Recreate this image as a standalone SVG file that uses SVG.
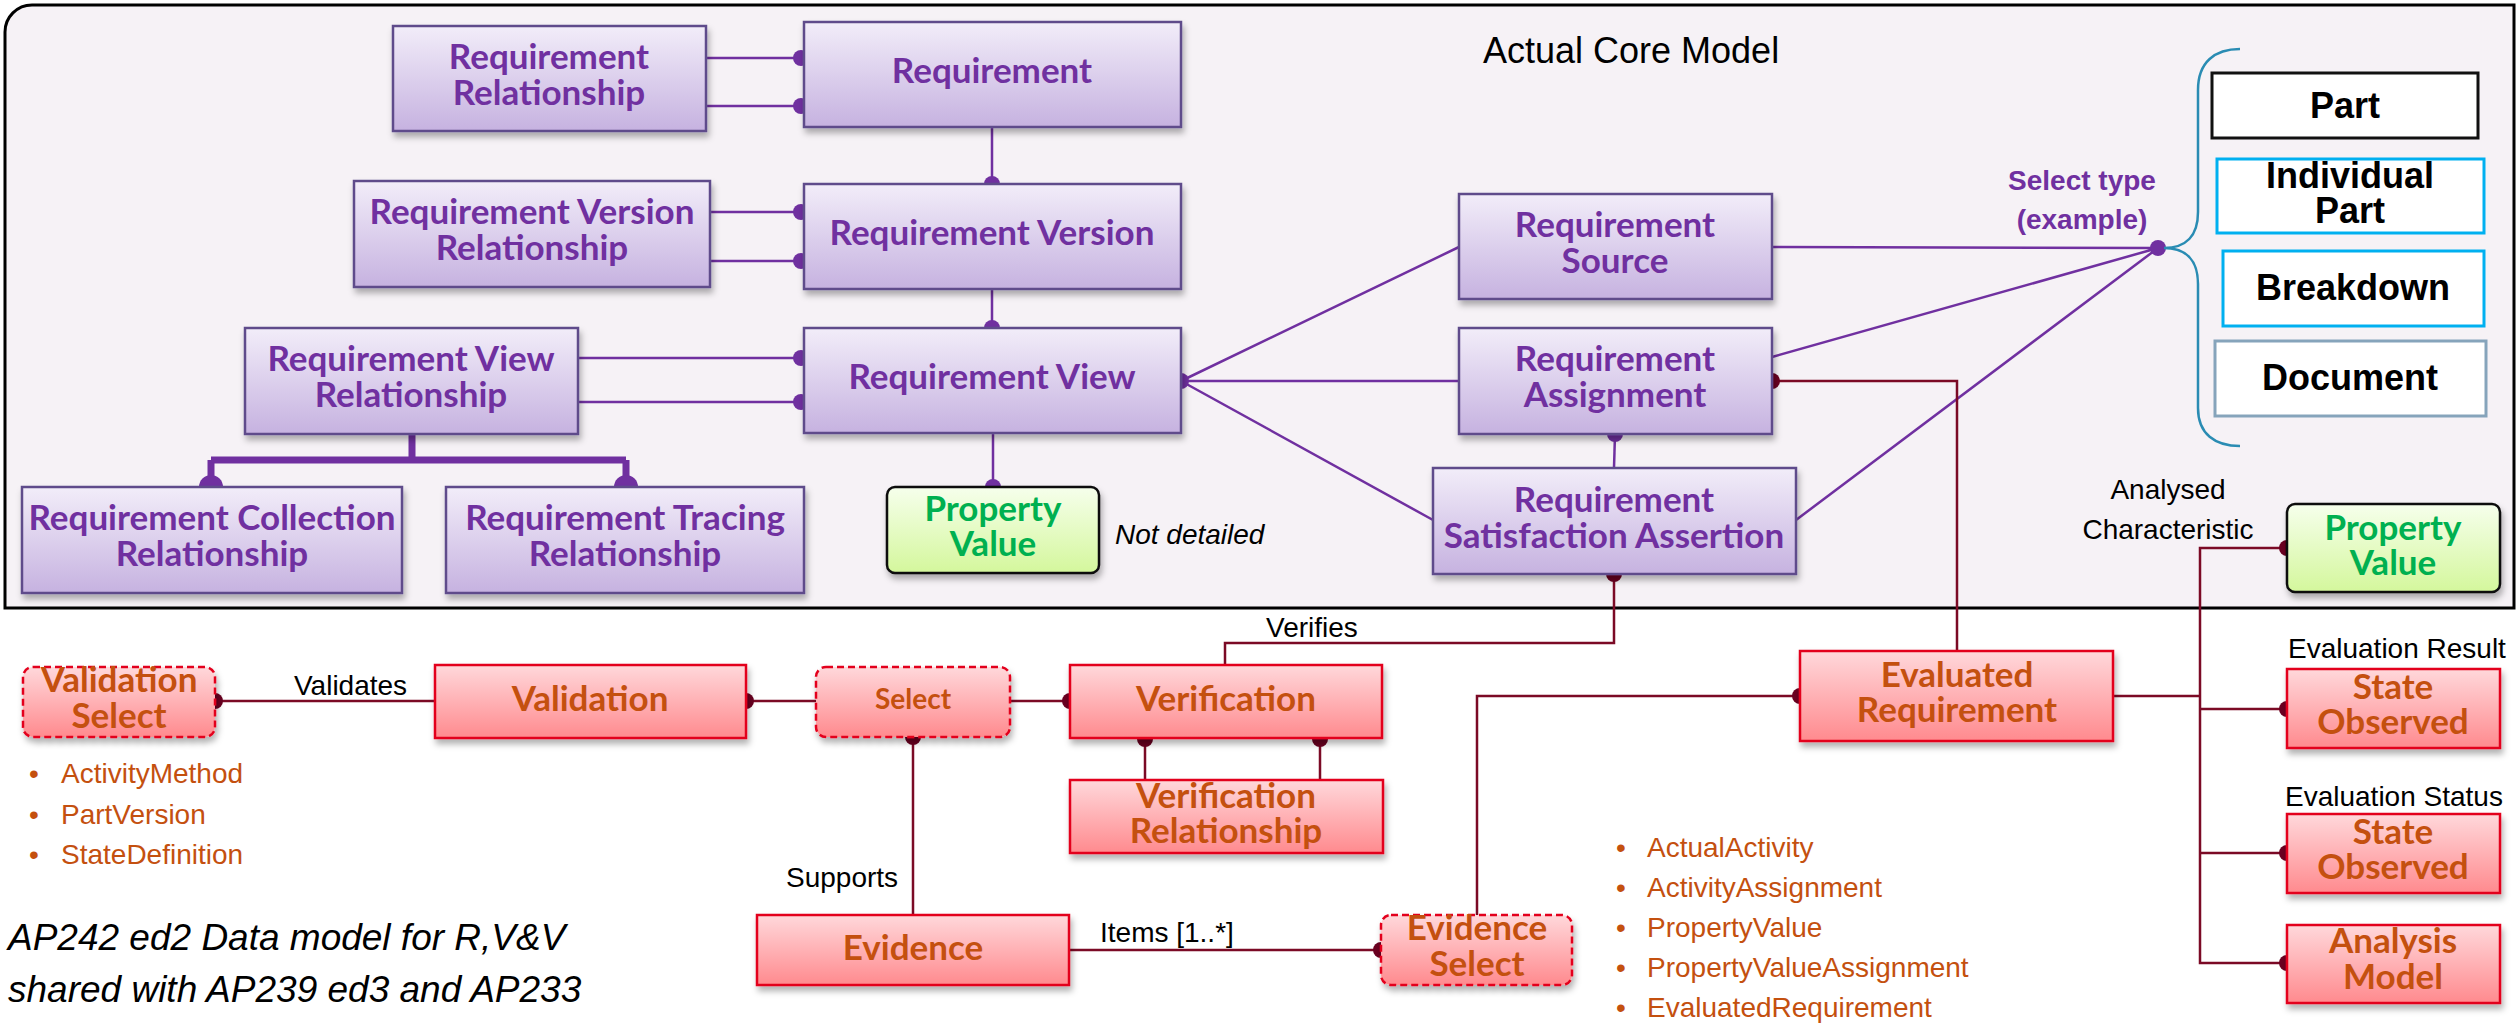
<svg xmlns="http://www.w3.org/2000/svg" width="2517" height="1025" viewBox="0 0 2517 1025">
  <defs>
    <linearGradient id="gPurple" x1="0" y1="0" x2="0" y2="1">
      <stop offset="0" stop-color="#f2edf9"/>
      <stop offset="1" stop-color="#c6b2e0"/>
    </linearGradient>
    <linearGradient id="gRed" x1="0" y1="0" x2="0" y2="1">
      <stop offset="0" stop-color="#ffd8db"/>
      <stop offset="1" stop-color="#ff8a8e"/>
    </linearGradient>
    <linearGradient id="gGreen" x1="0" y1="0" x2="0" y2="1">
      <stop offset="0" stop-color="#f6ffec"/>
      <stop offset="1" stop-color="#d4f79c"/>
    </linearGradient>
    <filter id="shadow" x="-10%" y="-20%" width="120%" height="150%">
      <feDropShadow dx="2" dy="5" stdDeviation="3" flood-color="#000" flood-opacity="0.3"/>
    </filter>
    <style>
      .frame { fill: #f6f2f6; stroke: #000; stroke-width: 3; }
      .pbox { fill: url(#gPurple); stroke: #5f4b8b; stroke-width: 2.5; filter: url(#shadow); }
      .rbox { fill: url(#gRed); stroke: #e3061f; stroke-width: 2.5; filter: url(#shadow); }
      .rsel { fill: url(#gRed); stroke: #e3061f; stroke-width: 2.5; stroke-dasharray: 7 4; filter: url(#shadow); }
      .gbox { fill: url(#gGreen); stroke: #111; stroke-width: 2.5; filter: url(#shadow); }
      .wbox { fill: #fff; stroke-width: 3; }
      .ptxt { font-family: Lato, "Open Sans", sans-serif; font-weight: bold; font-size: 35px; fill: #7030a0; text-anchor: middle; }
      .rtxt { font-family: Lato, "Open Sans", sans-serif; font-weight: bold; font-size: 35px; fill: #c4500f; text-anchor: middle; }
      .gtxt { font-family: Lato, "Open Sans", sans-serif; font-weight: bold; font-size: 35px; fill: #00b050; text-anchor: middle; }
      .wtxt { font-family: "Liberation Sans", Arial, sans-serif; font-weight: bold; font-size: 36px; fill: #000; text-anchor: middle; }
      .sel { font-family: "Liberation Sans", Arial, sans-serif; font-weight: bold; font-size: 28px; fill: #7030a0; text-anchor: middle; }
      .lbl { font-family: "Liberation Sans", Arial, sans-serif; font-size: 28px; fill: #000; }
      .note { font-family: "Liberation Sans", Arial, sans-serif; font-style: italic; font-size: 37px; fill: #000; }
      .lst { font-family: "Liberation Sans", Arial, sans-serif; font-size: 28px; fill: #c4500f; }
      .pc { fill: none; stroke: #7030a0; stroke-width: 2.5; }
      .pthick { fill: none; stroke: #7030a0; stroke-width: 7; }
      .pdot { fill: #7030a0; }
      .rc { fill: none; stroke: #7b0a25; stroke-width: 2.5; }
      .rdot { fill: #6a0020; }
    </style>
  </defs>

  <!-- core model frame (single rounded corner) -->
  <path class="frame" d="M5,32 A27,27 0 0 1 32,5 H2514 V608 H5 Z"/>
  <text class="lbl" x="1483" y="63" style="font-size:36px">Actual Core Model</text>

  <!-- connectors -->
  <g id="connectors">
    <!-- purple relationships -->
    <path class="pc" d="M706,58 H801 M706,106 H801"/>
    <path class="pc" d="M710,212 H801 M710,261 H801"/>
    <path class="pc" d="M578,358 H801 M578,402 H801"/>
    <path class="pc" d="M992,127 V184 M992,289 V328 M993,433 V487"/>
    <path class="pc" d="M1181,381 L1459,247 M1181,381 H1459 M1181,381 L1433,520"/>
    <path class="pc" d="M1615,434 L1614,468"/>
    <path class="pc" d="M2158,248 L1772,247 M2158,248 L1772,357 M2158,248 L1796,520"/>
    <path class="pthick" d="M412,434 V460 M211,460 H626 M211,460 V487 M626,460 V487"/>
    <circle class="pdot" cx="801" cy="58" r="8"/>
    <circle class="pdot" cx="801" cy="106" r="8"/>
    <circle class="pdot" cx="801" cy="212" r="8"/>
    <circle class="pdot" cx="801" cy="261" r="8"/>
    <circle class="pdot" cx="801" cy="358" r="8"/>
    <circle class="pdot" cx="801" cy="402" r="8"/>
    <circle class="pdot" cx="992" cy="184" r="8"/>
    <circle class="pdot" cx="992" cy="328" r="8"/>
    <circle class="pdot" cx="993" cy="487" r="8"/>
    <circle class="pdot" cx="1181" cy="381" r="8"/>
    <circle class="pdot" cx="1615" cy="434" r="8"/>
    <circle class="pdot" cx="2158" cy="248" r="8"/>
    <circle class="pdot" cx="211" cy="487" r="12"/>
    <circle class="pdot" cx="626" cy="487" r="12"/>

    <!-- selection brace -->
    <path d="M2240,49 C2215,49 2198,62 2198,90 L2198,212 C2198,236 2186,248 2164,248 C2186,248 2198,260 2198,284 L2198,408 C2198,434 2215,446 2240,446" fill="none" stroke="#2a8cb3" stroke-width="2.5"/>

    <!-- maroon relationships -->
    <path class="rc" d="M215,701 H435"/>
    <path class="rc" d="M746,701 H816 M1010,701 H1070"/>
    <path class="rc" d="M913,737 V915"/>
    <path class="rc" d="M1145,738 V780 M1320,738 V780"/>
    <path class="rc" d="M1614,574 V643 H1225 V665"/>
    <path class="rc" d="M1069,950 H1381"/>
    <path class="rc" d="M1477,915 V696 H1800"/>
    <path class="rc" d="M1772,381 H1957 V651"/>
    <path class="rc" d="M2113,696 H2200"/>
    <path class="rc" d="M2287,548 H2200 V963 H2287 M2200,709 H2287 M2200,853 H2287"/>
    <circle class="rdot" cx="215" cy="701" r="8"/>
    <circle class="rdot" cx="746" cy="701" r="8"/>
    <circle class="rdot" cx="1070" cy="701" r="8"/>
    <circle class="rdot" cx="913" cy="737" r="8"/>
    <circle class="rdot" cx="1145" cy="739" r="8"/>
    <circle class="rdot" cx="1320" cy="739" r="8"/>
    <circle class="rdot" cx="1614" cy="574" r="8"/>
    <circle class="rdot" cx="1381" cy="950" r="8"/>
    <circle class="rdot" cx="1800" cy="696" r="8"/>
    <circle class="rdot" cx="1772" cy="381" r="8"/>
    <circle class="rdot" cx="2287" cy="548" r="8"/>
    <circle class="rdot" cx="2287" cy="709" r="8"/>
    <circle class="rdot" cx="2287" cy="853" r="8"/>
    <circle class="rdot" cx="2287" cy="963" r="8"/>
  </g>

  <!-- core model entities -->
  <g id="req-relationship">
    <rect class="pbox" x="393" y="26" width="313" height="105"/>
    <text class="ptxt" y="69"><tspan x="549">Requirement</tspan><tspan x="549" dy="36">Relationship</tspan></text>
  </g>
  <g id="requirement">
    <rect class="pbox" x="804" y="22" width="377" height="105"/>
    <text class="ptxt" x="992" y="83">Requirement</text>
  </g>
  <g id="req-version-relationship">
    <rect class="pbox" x="354" y="181" width="356" height="106"/>
    <text class="ptxt" y="224"><tspan x="532">Requirement Version</tspan><tspan x="532" dy="36">Relationship</tspan></text>
  </g>
  <g id="req-version">
    <rect class="pbox" x="804" y="184" width="377" height="105"/>
    <text class="ptxt" x="992" y="245">Requirement Version</text>
  </g>
  <g id="req-view-relationship">
    <rect class="pbox" x="245" y="328" width="333" height="106"/>
    <text class="ptxt" y="371"><tspan x="411">Requirement View</tspan><tspan x="411" dy="36">Relationship</tspan></text>
  </g>
  <g id="req-view">
    <rect class="pbox" x="804" y="328" width="377" height="105"/>
    <text class="ptxt" x="992" y="389">Requirement View</text>
  </g>
  <g id="req-collection-relationship">
    <rect class="pbox" x="22" y="487" width="380" height="106"/>
    <text class="ptxt" y="530"><tspan x="212">Requirement Collection</tspan><tspan x="212" dy="36">Relationship</tspan></text>
  </g>
  <g id="req-tracing-relationship">
    <rect class="pbox" x="446" y="487" width="358" height="106"/>
    <text class="ptxt" y="530"><tspan x="625">Requirement Tracing</tspan><tspan x="625" dy="36">Relationship</tspan></text>
  </g>
  <g id="property-value-core">
    <rect class="gbox" x="887" y="487" width="212" height="86" rx="8"/>
    <text class="gtxt" y="521"><tspan x="993">Property</tspan><tspan x="993" dy="35">Value</tspan></text>
  </g>
  <text class="lbl" x="1115" y="544" style="font-style:italic">Not detailed</text>
  <g id="req-source">
    <rect class="pbox" x="1459" y="194" width="313" height="105"/>
    <text class="ptxt" y="237"><tspan x="1615">Requirement</tspan><tspan x="1615" dy="36">Source</tspan></text>
  </g>
  <g id="req-assignment">
    <rect class="pbox" x="1459" y="328" width="313" height="106"/>
    <text class="ptxt" y="371"><tspan x="1615">Requirement</tspan><tspan x="1615" dy="36">Assignment</tspan></text>
  </g>
  <g id="req-satisfaction-assertion">
    <rect class="pbox" x="1433" y="468" width="363" height="106"/>
    <text class="ptxt" y="512"><tspan x="1614">Requirement</tspan><tspan x="1614" dy="36">Satisfaction Assertion</tspan></text>
  </g>

  <!-- select type example -->
  <text class="sel" y="190"><tspan x="2082">Select type</tspan><tspan x="2082" dy="39">(example)</tspan></text>
  <g id="part">
    <rect class="wbox" x="2212" y="73" width="266" height="65" stroke="#111"/>
    <text class="wtxt" x="2345" y="118">Part</text>
  </g>
  <g id="individual-part">
    <rect class="wbox" x="2217" y="159" width="267" height="74" stroke="#00b0f0"/>
    <text class="wtxt" y="188"><tspan x="2350">Individual</tspan><tspan x="2350" dy="35">Part</tspan></text>
  </g>
  <g id="breakdown">
    <rect class="wbox" x="2223" y="251" width="261" height="75" stroke="#00b0f0"/>
    <text class="wtxt" x="2353" y="300">Breakdown</text>
  </g>
  <g id="document">
    <rect class="wbox" x="2215" y="341" width="271" height="75" stroke="#86a4bb"/>
    <text class="wtxt" x="2350" y="390">Document</text>
  </g>

  <text class="lbl" y="499" text-anchor="middle"><tspan x="2168">Analysed</tspan><tspan x="2168" dy="40">Characteristic</tspan></text>
  <g id="property-value-analysed">
    <rect class="gbox" x="2287" y="504" width="213" height="88" rx="8"/>
    <text class="gtxt" y="540"><tspan x="2393">Property</tspan><tspan x="2393" dy="35">Value</tspan></text>
  </g>

  <!-- validation and verification -->
  <g id="validation-select">
    <rect class="rsel" x="23" y="667" width="192" height="70" rx="10"/>
    <text class="rtxt" y="692"><tspan x="119">Validation</tspan><tspan x="119" dy="36">Select</tspan></text>
  </g>
  <text class="lbl" x="294" y="695">Validates</text>
  <g id="validation">
    <rect class="rbox" x="435" y="665" width="311" height="73"/>
    <text class="rtxt" x="590" y="711">Validation</text>
  </g>
  <g id="select">
    <rect class="rsel" x="816" y="667" width="194" height="70" rx="10"/>
    <text class="rtxt" x="913" y="709" style="font-size:28px">Select</text>
  </g>
  <text class="lbl" x="1266" y="637">Verifies</text>
  <g id="verification">
    <rect class="rbox" x="1070" y="665" width="312" height="73"/>
    <text class="rtxt" x="1226" y="711">Verification</text>
  </g>
  <g id="verification-relationship">
    <rect class="rbox" x="1070" y="780" width="313" height="73"/>
    <text class="rtxt" y="808"><tspan x="1226">Verification</tspan><tspan x="1226" dy="35">Relationship</tspan></text>
  </g>
  <text class="lbl" x="786" y="887">Supports</text>
  <g id="evidence">
    <rect class="rbox" x="757" y="915" width="312" height="70"/>
    <text class="rtxt" x="913" y="960">Evidence</text>
  </g>
  <text class="lbl" x="1100" y="942">Items [1..*]</text>
  <g id="evidence-select">
    <rect class="rsel" x="1381" y="915" width="191" height="70" rx="10"/>
    <text class="rtxt" y="940"><tspan x="1477">Evidence</tspan><tspan x="1477" dy="36">Select</tspan></text>
  </g>
  <g id="evaluated-requirement">
    <rect class="rbox" x="1800" y="651" width="313" height="90"/>
    <text class="rtxt" y="687"><tspan x="1957">Evaluated</tspan><tspan x="1957" dy="35">Requirement</tspan></text>
  </g>
  <text class="lbl" x="2288" y="658">Evaluation Result</text>
  <g id="state-observed-result">
    <rect class="rbox" x="2287" y="669" width="213" height="79"/>
    <text class="rtxt" y="699"><tspan x="2393">State</tspan><tspan x="2393" dy="35">Observed</tspan></text>
  </g>
  <text class="lbl" x="2285" y="806">Evaluation Status</text>
  <g id="state-observed-status">
    <rect class="rbox" x="2287" y="814" width="213" height="79"/>
    <text class="rtxt" y="844"><tspan x="2393">State</tspan><tspan x="2393" dy="35">Observed</tspan></text>
  </g>
  <g id="analysis-model">
    <rect class="rbox" x="2287" y="925" width="213" height="78"/>
    <text class="rtxt" y="953"><tspan x="2393">Analysis</tspan><tspan x="2393" dy="36">Model</tspan></text>
  </g>

  <!-- select lists -->
  <g class="lst">
    <text x="29" y="783">•</text><text x="61" y="783">ActivityMethod</text>
    <text x="29" y="824">•</text><text x="61" y="824">PartVersion</text>
    <text x="29" y="864">•</text><text x="61" y="864">StateDefinition</text>
  </g>
  <g class="lst">
    <text x="1616" y="857">•</text><text x="1647" y="857">ActualActivity</text>
    <text x="1616" y="897">•</text><text x="1647" y="897">ActivityAssignment</text>
    <text x="1616" y="937">•</text><text x="1647" y="937">PropertyValue</text>
    <text x="1616" y="977">•</text><text x="1647" y="977">PropertyValueAssignment</text>
    <text x="1616" y="1017">•</text><text x="1647" y="1017">EvaluatedRequirement</text>
  </g>

  <text class="note" y="950"><tspan x="8">AP242 ed2 Data model for R,V&amp;V</tspan><tspan x="8" dy="52">shared with AP239 ed3 and AP233</tspan></text>
</svg>
